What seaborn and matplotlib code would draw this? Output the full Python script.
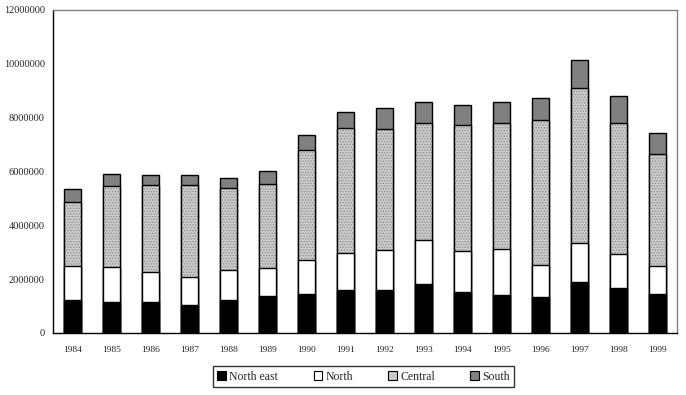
import numpy as np
import pandas as pd
import matplotlib
matplotlib.use("Agg")
import matplotlib.pyplot as plt
import seaborn as sns
from matplotlib.patches import Patch

years = ["1984", "1985", "1986", "1987", "1988", "1989", "1990", "1991",
         "1992", "1993", "1994", "1995", "1996", "1997", "1998", "1999"]
north_east = [1230000, 1150000, 1150000, 1040000, 1230000, 1370000, 1450000, 1600000,
              1600000, 1820000, 1520000, 1410000, 1340000, 1890000, 1670000, 1450000]
north = [1260000, 1290000, 1100000, 1030000, 1100000, 1030000, 1250000, 1360000,
         1470000, 1620000, 1510000, 1700000, 1170000, 1440000, 1250000, 1030000]
central = [2380000, 3010000, 3240000, 3420000, 3050000, 3120000, 4090000, 4640000,
           4500000, 4350000, 4690000, 4680000, 5390000, 5760000, 4870000, 4160000]
south = [480000, 460000, 370000, 370000, 370000, 490000, 550000, 600000,
         780000, 780000, 740000, 780000, 820000, 1040000, 1000000, 780000]
series_names = ["North east", "North", "Central", "South"]
yticks = [0, 2000000, 4000000, 6000000, 8000000, 10000000, 12000000]

sns.set_style("white")
plt.rcParams["font.family"] = ["Liberation Serif", "DejaVu Serif"]
plt.rcParams["hatch.linewidth"] = 0.6

df = pd.DataFrame({"year": years, "ne": north_east, "n": north, "c": central, "s": south})
df["l1"] = df["ne"]
df["l2"] = df["l1"] + df["n"]
df["l3"] = df["l2"] + df["c"]
df["l4"] = df["l3"] + df["s"]

fig = plt.figure(figsize=(6.86, 3.95), dpi=100)
ax = fig.add_axes([53/686, 62/395, 624/686, 323/395])

bw = 0.44
col_s = "#808080"
col_c = "#cbcbcb"
# South (total)
sns.barplot(data=df, x="year", y="l4", color=col_s, saturation=1, width=bw,
            edgecolor="black", linewidth=1, ax=ax)
# Central (hatched fill, then outline)
sns.barplot(data=df, x="year", y="l3", color=col_c, saturation=1, width=bw,
            edgecolor="#8a8a8a", linewidth=0, hatch="......", ax=ax)
sns.barplot(data=df, x="year", y="l3", fill=False, width=bw,
            edgecolor="black", linewidth=1, ax=ax)
# North
sns.barplot(data=df, x="year", y="l2", color="white", saturation=1, width=bw,
            edgecolor="black", linewidth=1, ax=ax)
# North east
sns.barplot(data=df, x="year", y="l1", color="black", saturation=1, width=bw,
            edgecolor="black", linewidth=1, ax=ax)

n = len(years)
ax.set_xlim(-0.5, n - 0.5)
ax.set_ylim(0, 12000000)
ax.set_yticks(yticks)
ax.set_yticklabels([str(v) for v in yticks], fontsize=7.5)
ax.set_xticks(np.arange(n))
ax.set_xticklabels(years, fontsize=6.8)
ax.set_xticks(np.arange(n + 1) - 0.5, minor=True)
ax.tick_params(axis="x", which="major", length=0, pad=9)
ax.tick_params(axis="x", which="minor", length=4, width=1, direction="out", color="black")
ax.tick_params(axis="y", which="major", length=4, width=1, direction="out", color="black", pad=2)
ax.set_xlabel("")
ax.set_ylabel("")
ax.grid(False)
for side in ["left", "bottom"]:
    ax.spines[side].set_color("black")
    ax.spines[side].set_linewidth(1)
for side in ["top", "right"]:
    ax.spines[side].set_color("#808080")
    ax.spines[side].set_linewidth(1)

handles = [
    Patch(facecolor="black", edgecolor="black", linewidth=0.8),
    Patch(facecolor="white", edgecolor="black", linewidth=0.8),
    Patch(facecolor=col_c, edgecolor="black", linewidth=0.8),
    Patch(facecolor=col_s, edgecolor="black", linewidth=0.8),
]
leg = fig.legend(handles, series_names, loc="center", bbox_to_anchor=(363.5/686, 1 - 376.5/395),
                 ncol=4, frameon=True, fancybox=False, shadow=False, fontsize=8.5,
                 handlelength=0.75, handleheight=0.75, handletextpad=0.25,
                 columnspacing=3.0, borderpad=0.35)
leg.get_frame().set_edgecolor("black")
leg.get_frame().set_linewidth(1)

fig.savefig("out.png", dpi=100)
